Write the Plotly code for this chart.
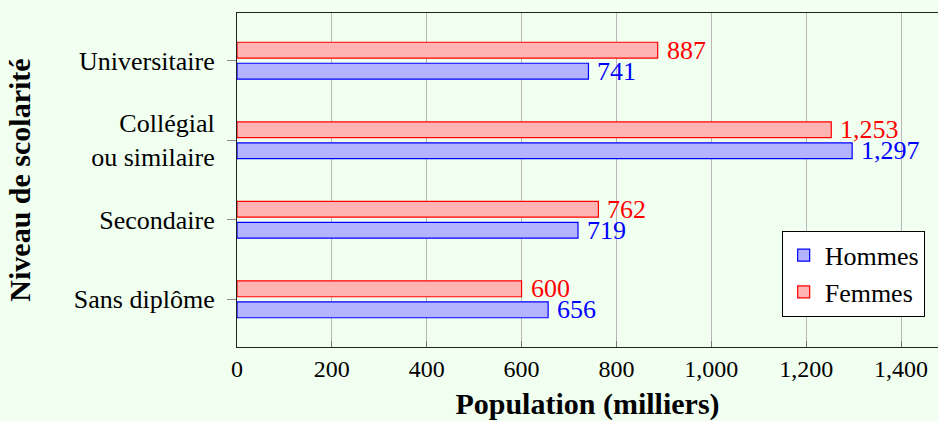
import plotly.graph_objects as go

categories = ["Sans diplôme", "Secondaire", "Collégial<br>ou similaire", "Universitaire"]
hommes = [656, 719, 1297, 741]
femmes = [600, 762, 1253, 887]
x_ticks = [0, 200, 400, 600, 800, 1000, 1200, 1400]

FONT = "Liberation Serif"
BG = "#F0FFF0"
idx = list(range(len(categories)))
off = 0.132
bw = 0.2

fig = go.Figure()
fig.add_trace(go.Bar(
    name="Hommes", orientation="h", x=hommes, y=[i - off for i in idx], width=bw,
    marker=dict(color="rgb(179,179,255)", line=dict(color="blue", width=1.2)),
))
fig.add_trace(go.Bar(
    name="Femmes", orientation="h", x=femmes, y=[i + off for i in idx], width=bw,
    marker=dict(color="rgb(255,179,179)", line=dict(color="red", width=1.2)),
))

for vals, sign, col in [(hommes, -1, "blue"), (femmes, 1, "red")]:
    for i, v in zip(idx, vals):
        fig.add_annotation(x=v, y=i + sign * off, text=f"{v:,}", showarrow=False,
                           xanchor="left", yanchor="middle", xshift=7,
                           font=dict(family=FONT, size=26, color=col))

fig.update_layout(
    width=938, height=421,
    margin=dict(l=237, r=0, t=13, b=74),
    paper_bgcolor=BG, plot_bgcolor=BG,
    barmode="overlay",
    font=dict(family=FONT, size=24, color="black"),
    showlegend=True,
    legend=dict(x=0.777, y=0.348, xanchor="left", yanchor="top",
                bgcolor="white", bordercolor="black", borderwidth=1,
                font=dict(family=FONT, size=26), traceorder="normal",
                itemwidth=32, tracegroupgap=0),
)
fig.update_xaxes(
    range=[0, 1478], tickvals=x_ticks, tickformat=",",
    showgrid=True, gridcolor="#b8b8b8", gridwidth=1,
    ticks="inside", ticklen=6, tickcolor="#777", tickwidth=1,
    showline=True, linecolor="#222", linewidth=1.2, mirror=True,
    zeroline=False, ticklabelstandoff=0,
    tickfont=dict(family=FONT, size=24),
    title=dict(text="<b>Population (milliers)</b>", font=dict(family=FONT, size=30), standoff=16),
)
fig.update_yaxes(
    range=[-0.6, 3.6], tickvals=idx, ticktext=categories,
    showgrid=False, zeroline=False,
    ticks="outside", ticklen=9, tickcolor="#888", tickwidth=1,
    showline=True, linecolor="#222", linewidth=1.2, mirror=True,
    ticklabelstandoff=7,
    tickfont=dict(family=FONT, size=26),
    title=dict(text="<b>Niveau de scolarité</b>", font=dict(family=FONT, size=30), standoff=34),
)

fig.write_html("out.html", config={"displayModeBar": False},
               post_script="document.body.style.margin='0';document.body.style.overflow='hidden';")
